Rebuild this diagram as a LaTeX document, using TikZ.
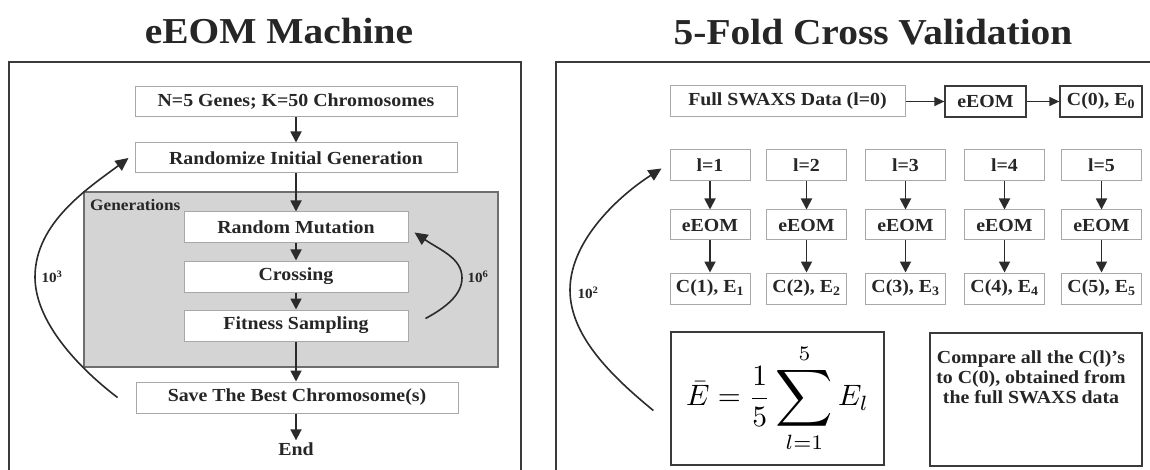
\documentclass[tikz,border=0pt]{standalone}
\usepackage{fontspec}
\setmainfont[FakeStretch=1.08]{Liberation Serif}
\usepackage{amsmath}
\usepackage{graphicx}
\usetikzlibrary{arrows.meta}
\definecolor{txt}{HTML}{262626}
\definecolor{lgray}{HTML}{A8A8A8}
\definecolor{dgray}{HTML}{3A3A3A}
\definecolor{genfill}{HTML}{D4D4D4}
\definecolor{genline}{HTML}{6E6E6E}
\definecolor{acol}{HTML}{2B2B2B}
\tikzset{
  tbox/.style={draw=lgray, line width=1pt, fill=white, inner sep=0pt, minimum height=31pt,
    text=txt, font=\bfseries\fontsize{18.4}{21}\selectfont},
  dbox/.style={tbox, draw=dgray, line width=1.3pt},
  arr/.style={draw=acol, line width=1.8pt, -{Triangle[length=11pt,width=11pt]}},
  harr/.style={draw=acol, line width=1.5pt, -{Triangle[length=10pt,width=9pt]}},
  looparr/.style={draw=acol, line width=1.6pt, -{Triangle[length=13pt,width=12pt]}},
  lbl/.style={text=txt, font=\bfseries\fontsize{14}{16}\selectfont, inner sep=0pt},
  ttl/.style={text=txt, font=\bfseries\fontsize{36.5}{40}\selectfont, inner sep=0pt, anchor=base},
  frame/.style={draw=dgray, line width=1.6pt}
}
\begin{document}
\begin{tikzpicture}[x=1pt,y=-1pt]
\useasboundingbox (0,0) rectangle (1150,470);
\clip (0,0) rectangle (1150,470);
\fill[white] (0,0) rectangle (1150,470);

% ---------- titles ----------
\node[ttl] (t1) at (279,44) {eEOM Machine};
\node[ttl] (t2) at (873,45) {5-Fold Cross Validation};

% ---------- frames ----------
\draw[frame] (9,490) -- (9,62) -- (521,62) -- (521,490);
\draw[frame] (556,490) -- (556,62) -- (1170,62);

% ---------- left panel ----------
\node[draw=genline, line width=1.2pt, fill=genfill, minimum width=414pt, minimum height=175pt, inner sep=0pt] (gen) at (291,279.5) {};
\node[anchor=west, text=txt, font=\bfseries\fontsize{16}{18}\selectfont, inner sep=0pt] (genlbl) at (90,205) {Generations};

\node[tbox, minimum width=322pt, minimum height=30pt] (n5) at (296,102) {N=5 Genes; K=50 Chromosomes};
\node[tbox, minimum width=322pt, minimum height=30pt] (rnd) at (296,158) {Randomize Initial Generation};
\node[tbox, minimum width=224pt] (rm) at (296,227.5) {Random Mutation};
\node[tbox, minimum width=224pt] (cr) at (296,276.5) {Crossing};
\node[tbox, minimum width=224pt] (fs) at (296,325.5) {Fitness Sampling};
\node[tbox, minimum width=322pt] (save) at (297,397.5) {Save The Best Chromosome(s)};
\node[text=txt, font=\bfseries\fontsize{18.4}{21}\selectfont, inner sep=2pt] (endn) at (296,449) {End};

\draw[arr] (n5) -- (rnd);
\draw[arr] (rnd) -- (rm);
\draw[arr] (rm) -- (cr);
\draw[arr] (cr) -- (fs);
\draw[arr] (fs.south) -- (fs.south |- save.north);
\draw[arr] (save.south -| endn) -- (endn);

\draw[looparr] ([xshift=-18pt]save.west) .. controls (75,365) and (35,320) .. (35,277)
  .. controls (35,222) and (90,187) .. ([xshift=-6pt]rnd.west);
\node[lbl] (l3) at (52,277) {10\textsuperscript{3}};

\draw[looparr] ([xshift=17pt,yshift=7pt]fs.east) .. controls (445,308) and (462,295) .. (462,278)
  .. controls (462,258) and (440,250) .. ([xshift=6pt,yshift=-5pt]rm.east);
\node[lbl] (l6) at (478,277) {10\textsuperscript{6}};

% ---------- right panel ----------
\node[tbox, minimum width=235pt] (full) at (787.5,101.5) {Full SWAXS Data (l=0)};
\node[dbox, minimum width=81pt] (e0) at (985.5,101.5) {eEOM};
\node[dbox, minimum width=82pt] (c0) at (1101,101.5) {C(0), E\textsubscript{0}};
\draw[harr] (full) -- (e0);
\draw[harr] (e0) -- (c0);

\foreach \i/\x in {1/710,2/806.5,3/905.5,4/1004.5,5/1101.5}{
  \node[tbox, minimum width=80pt] (l\i) at (\x,165.5) {l=\i};
  \node[tbox, minimum width=80pt, minimum height=30pt] (e\i) at (\x,225) {eEOM};
  \node[tbox, minimum width=80pt] (c\i) at (\x,288.5) {C(\i), E\textsubscript{\i}};
  \draw[arr] (l\i) -- (e\i);
  \draw[arr] (e\i) -- (c\i);
}

\node[draw=dgray, line width=1.3pt, fill=white, minimum width=213pt, minimum height=133pt, inner sep=0pt, text=black] (form) at (777.5,398.5)
  {\scalebox{2.95}{$\displaystyle \bar{E} = \frac{1}{5}\mathop{\vcenter{\hbox{\scalebox{1.35}{$\displaystyle\sum$}}}}\limits_{l=1}^{5} E_l$}};
\node[draw=dgray, line width=1.3pt, fill=white, minimum width=212pt, minimum height=133pt, inner sep=0pt] (cmpbox) at (1036,399.5) {};
\node[text=txt, font=\bfseries\fontsize{18.4}{20}\selectfont, align=center, inner sep=0pt] (cmp) at (1031,377)
  {Compare all the C(l)’s\\to C(0), obtained from\\the full SWAXS data};

\draw[looparr] ([xshift=-17pt,yshift=-12pt]form.west) .. controls (610,375) and (570,335) .. (570,290)
  .. controls (570,240) and (620,195) .. ([xshift=-8pt,yshift=-3pt]l1.west);
\node[lbl] (l2) at (588,293) {10\textsuperscript{2}};
\end{tikzpicture}
\end{document}
